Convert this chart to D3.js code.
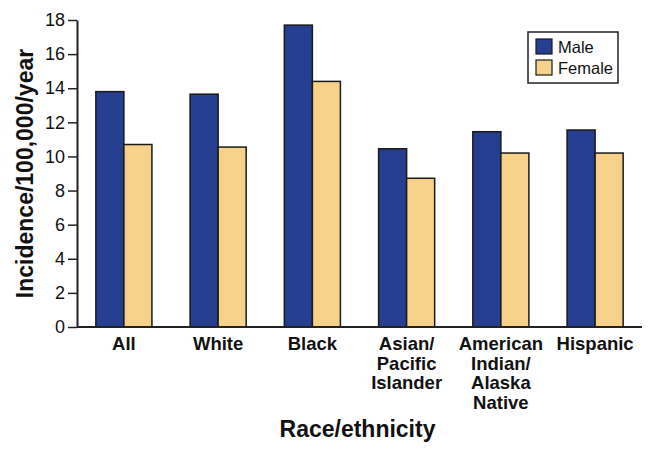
<!DOCTYPE html>
<html>
<head>
<meta charset="utf-8">
<script src="https://cdn.jsdelivr.net/npm/d3@7"></script>
<style>
  html, body { margin: 0; padding: 0; background: #fff; overflow: hidden; }
  svg { display: block; }
</style>
</head>
<body>
<div id="chart"></div>
<script>
// ============================================================
//  DATA
// ============================================================
const categories = ["All", "White", "Black", "Asian/Pacific Islander", "American Indian/Alaska Native", "Hispanic"];
const categoryLines = [["All"], ["White"], ["Black"], ["Asian/", "Pacific", "Islander"], ["American", "Indian/", "Alaska", "Native"], ["Hispanic"]];
const series = ["Male", "Female"];
const maleValues = [13.8, 13.65, 17.7, 10.45, 11.45, 11.55];
const femaleValues = [10.7, 10.55, 14.4, 8.72, 10.2, 10.2];
const yTicks = [0, 2, 4, 6, 8, 10, 12, 14, 16, 18];

// ============================================================
//  CONFIG
// ============================================================
const CONFIG = {
    WIDTH: 654,
    HEIGHT: 455,
    MARGIN: { TOP: 20, RIGHT: 12, BOTTOM: 128, LEFT: 77 },
    COLORS: { Male: "#263e8f", Female: "#f5d189" },
    STROKE: "#1a1a1a",
    FONT: "Liberation Sans, Arial, Helvetica, sans-serif",
    LINE_H: 19.5,
};

const innerWidth = CONFIG.WIDTH - CONFIG.MARGIN.LEFT - CONFIG.MARGIN.RIGHT;
const innerHeight = CONFIG.HEIGHT - CONFIG.MARGIN.TOP - CONFIG.MARGIN.BOTTOM;

const data = categories.map((c, i) => ({ cat: c, Male: maleValues[i], Female: femaleValues[i] }));

const svg = d3.select("#chart").append("svg")
    .attr("width", CONFIG.WIDTH)
    .attr("height", CONFIG.HEIGHT)
    .attr("font-family", CONFIG.FONT);

const g = svg.append("g")
    .attr("transform", `translate(${CONFIG.MARGIN.LEFT}, ${CONFIG.MARGIN.TOP})`);

// --- Scales ---
const x0 = d3.scaleBand()
    .domain(categories)
    .range([0, innerWidth])
    .paddingInner(0.405)
    .paddingOuter(0.2);

const x1 = d3.scaleBand()
    .domain(series)
    .range([0, x0.bandwidth()]);

const y = d3.scaleLinear()
    .domain([0, 18])
    .range([innerHeight, 0]);

// --- Bars ---
const groups = g.selectAll(".grp")
    .data(data)
    .join("g")
    .attr("class", "grp")
    .attr("transform", d => `translate(${x0(d.cat)},0)`);

groups.selectAll("rect")
    .data(d => series.map(s => ({ key: s, value: d[s] })))
    .join("rect")
    .attr("x", d => x1(d.key))
    .attr("y", d => y(d.value))
    .attr("width", x1.bandwidth())
    .attr("height", d => innerHeight - y(d.value))
    .attr("fill", d => CONFIG.COLORS[d.key])
    .attr("stroke", CONFIG.STROKE)
    .attr("stroke-width", 1.5);

// --- Y axis ---
const yAxis = g.append("g")
    .call(d3.axisLeft(y).tickValues(yTicks).tickSize(9).tickPadding(3).tickSizeOuter(0))
    .attr("font-family", CONFIG.FONT)
    .attr("font-size", 18);
yAxis.select(".domain").attr("stroke", "#222").attr("stroke-width", 2);
yAxis.selectAll(".tick line").attr("stroke", "#222").attr("stroke-width", 1.5);
yAxis.selectAll(".tick text").attr("fill", "#111");

// --- X axis ---
g.append("line")
    .attr("x1", 0)
    .attr("x2", innerWidth)
    .attr("y1", innerHeight)
    .attr("y2", innerHeight)
    .attr("stroke", "#222")
    .attr("stroke-width", 2);

// category labels, one text per line
const labelRows = categories.flatMap((c, i) =>
    categoryLines[i].map((line, j) => ({ cat: c, line, row: j })));

g.append("g")
    .selectAll("text")
    .data(labelRows)
    .join("text")
    .attr("x", d => x0(d.cat) + x0.bandwidth() / 2)
    .attr("y", d => innerHeight + 23 + d.row * CONFIG.LINE_H)
    .attr("text-anchor", "middle")
    .attr("font-size", 18.5)
    .attr("font-weight", "bold")
    .attr("fill", "#111")
    .text(d => d.line);

// --- Axis titles ---
svg.append("text")
    .attr("x", CONFIG.MARGIN.LEFT + innerWidth / 2 - 2)
    .attr("y", 437)
    .attr("text-anchor", "middle")
    .attr("font-size", 23)
    .attr("font-weight", "bold")
    .attr("fill", "#111")
    .text("Race/ethnicity");

svg.append("text")
    .attr("transform", `translate(33, ${CONFIG.MARGIN.TOP + innerHeight / 2}) rotate(-90)`)
    .attr("text-anchor", "middle")
    .attr("font-size", 23)
    .attr("font-weight", "bold")
    .attr("fill", "#111")
    .text("Incidence/100,000/year");

// --- Legend ---
const legend = svg.append("g").attr("transform", "translate(528, 32)");
legend.append("rect")
    .attr("width", 90)
    .attr("height", 51)
    .attr("fill", "#fff")
    .attr("stroke", "#222")
    .attr("stroke-width", 1.5);

const items = legend.selectAll(".item")
    .data(series)
    .join("g")
    .attr("class", "item")
    .attr("transform", (d, i) => `translate(8, ${7 + i * 21})`);

items.append("rect")
    .attr("width", 16)
    .attr("height", 15)
    .attr("fill", d => CONFIG.COLORS[d])
    .attr("stroke", CONFIG.STROKE)
    .attr("stroke-width", 1.2);

items.append("text")
    .attr("x", 22)
    .attr("y", 14)
    .attr("font-size", 16.5)
    .attr("fill", "#111")
    .text(d => d);
</script>
</body>
</html>
